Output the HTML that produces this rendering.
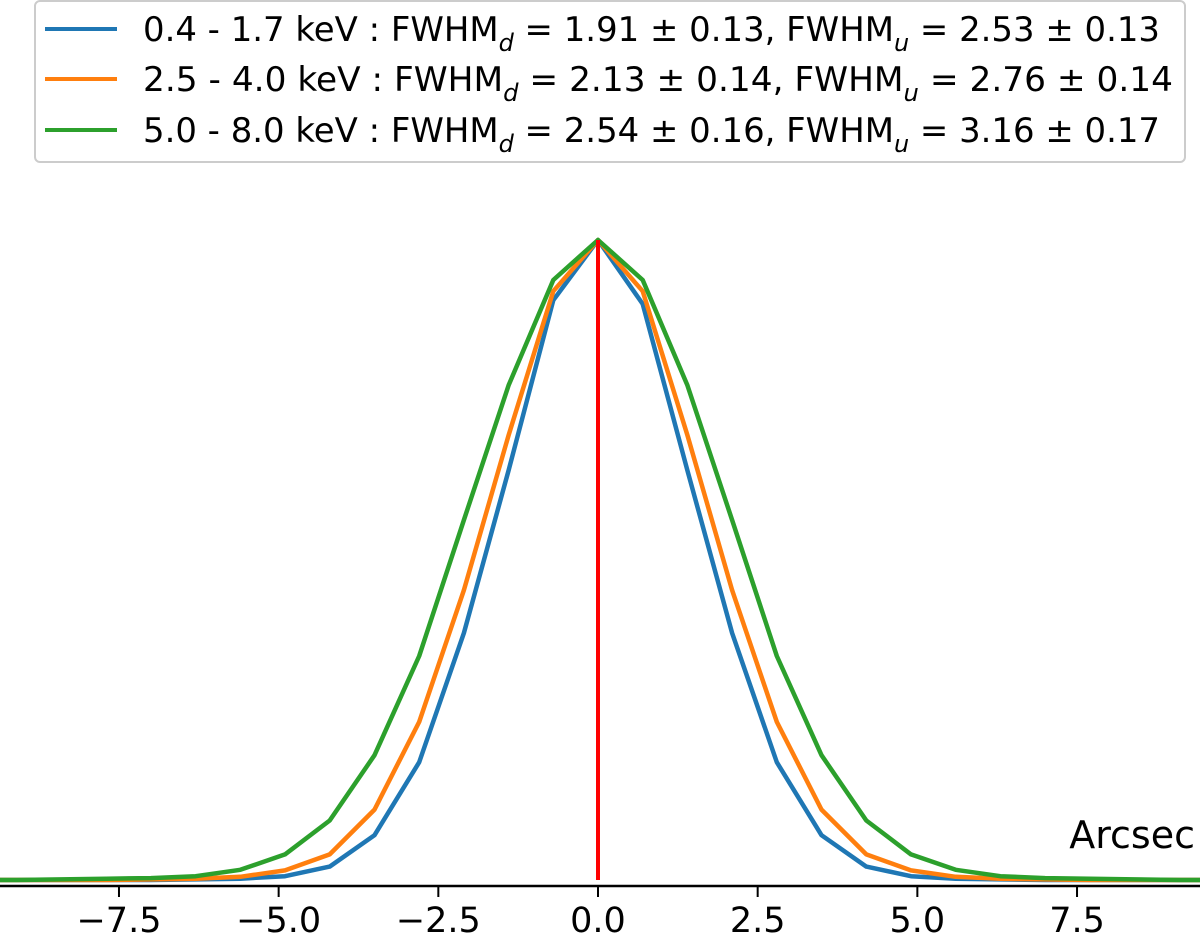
<!DOCTYPE html>
<html><head><meta charset="utf-8"><style>
html,body{margin:0;padding:0;background:#fff;}
svg{display:block;font-family:"DejaVu Sans","Liberation Sans",sans-serif;}
</style></head><body>
<svg id="chart" width="1200" height="937" viewBox="0 0 1200 937" xmlns="http://www.w3.org/2000/svg">
<g id="plot"></g>
<g id="axis"></g>
<text x="1195" y="848" font-size="38" text-anchor="end" fill="#000">Arcsec</text>
<g>
<rect x="35" y="1" width="1150" height="161" rx="5" fill="#fff" stroke="#ccc" stroke-width="2"/>
<g>
<line x1="45" y1="29" x2="117" y2="29" stroke="#1f77b4" stroke-width="4"/>
<text x="143" y="41" font-size="34" textLength="1017" lengthAdjust="spacingAndGlyphs">0.4 - 1.7 keV : FWHM<tspan font-style="italic" font-size="24" dy="10">d</tspan><tspan dy="-10"> = 1.91 ± 0.13, FWHM</tspan><tspan font-style="italic" font-size="24" dy="10">u</tspan><tspan dy="-10"> = 2.53 ± 0.13</tspan></text>
</g>
<g>
<line x1="45" y1="79" x2="117" y2="79" stroke="#ff7f0e" stroke-width="4"/>
<text x="143" y="91" font-size="34" textLength="1030" lengthAdjust="spacingAndGlyphs">2.5 - 4.0 keV :  FWHM<tspan font-style="italic" font-size="24" dy="10">d</tspan><tspan dy="-10"> = 2.13 ± 0.14, FWHM</tspan><tspan font-style="italic" font-size="24" dy="10">u</tspan><tspan dy="-10"> = 2.76 ± 0.14</tspan></text>
</g>
<g>
<line x1="45" y1="130" x2="117" y2="130" stroke="#2ca02c" stroke-width="4"/>
<text x="143" y="142" font-size="34" textLength="1017" lengthAdjust="spacingAndGlyphs">5.0 - 8.0 keV : FWHM<tspan font-style="italic" font-size="24" dy="10">d</tspan><tspan dy="-10"> = 2.54 ± 0.16, FWHM</tspan><tspan font-style="italic" font-size="24" dy="10">u</tspan><tspan dy="-10"> = 3.16 ± 0.17</tspan></text>
</g>
</g>
</svg>
<script>
const xPositions = [-9.8,-9.1,-8.4,-7.7,-7.0,-6.3,-5.6,-4.9,-4.2,-3.5,-2.8,-2.1,-1.4,-0.7,0,0.7,1.4,2.1,2.8,3.5,4.2,4.9,5.6,6.3,7.0,7.7,8.4,9.1,9.8];
const softValues = [0,0,0,0,0,0.001,0.002,0.006,0.021,0.07,0.184,0.386,0.64,0.906,1,0.9,0.64,0.386,0.184,0.07,0.021,0.006,0.002,0.001,0,0,0,0,0];
const mediumValues = [0,0,0,0,0.001,0.002,0.005,0.015,0.04,0.11,0.247,0.453,0.695,0.92,1,0.92,0.695,0.453,0.247,0.11,0.04,0.015,0.005,0.002,0.001,0,0,0,0];
const hardValues = [0,0,0.001,0.002,0.003,0.006,0.016,0.04,0.093,0.195,0.35,0.5625,0.773,0.9375,1,0.9375,0.773,0.5625,0.35,0.195,0.093,0.04,0.016,0.006,0.003,0.002,0.001,0,0];
const tickValues = [-7.5,-5.0,-2.5,0.0,2.5,5.0,7.5];
const tickLabels = ["\u22127.5","\u22125.0","\u22122.5","0.0","2.5","5.0","7.5"];
const NS="http://www.w3.org/2000/svg";
function sx(v){return 598+v*63.87;}
function sy(v){return 880-v*640;}
const plot=document.getElementById('plot');
const axis=document.getElementById('axis');
function mk(t,a){const e=document.createElementNS(NS,t);for(const k in a)e.setAttribute(k,a[k]);return e;}
const series=[[softValues,'#1f77b4','line-soft'],[mediumValues,'#ff7f0e','line-medium'],[hardValues,'#2ca02c','line-hard']];
series.forEach(s=>{
  const d=s[0].map((v,i)=>(i?'L':'M')+sx(xPositions[i]).toFixed(1)+','+sy(v).toFixed(1)).join(' ');
  const p=mk('path',{d:d,fill:'none',stroke:s[1],'stroke-width':4.5,'stroke-linejoin':'round'});
  
  
  plot.appendChild(p);
});
const red=mk('line',{x1:sx(0),x2:sx(0),y1:sy(1),y2:sy(0),stroke:'#ff0000','stroke-width':4});


plot.appendChild(red);
const spine=mk('line',{x1:0,x2:1200,y1:886,y2:886,stroke:'#000','stroke-width':2.5});


axis.appendChild(spine);
tickValues.forEach((v,i)=>{
  const t=mk('line',{x1:sx(v),x2:sx(v),y1:886,y2:897,stroke:'#000','stroke-width':2});
  
  
  axis.appendChild(t);
  const l=mk('text',{x:sx(v),y:932,'font-size':35,'text-anchor':'middle',fill:'#000'});
  l.textContent=tickLabels[i];
  
  
  axis.appendChild(l);
});
</script>
</body></html>
